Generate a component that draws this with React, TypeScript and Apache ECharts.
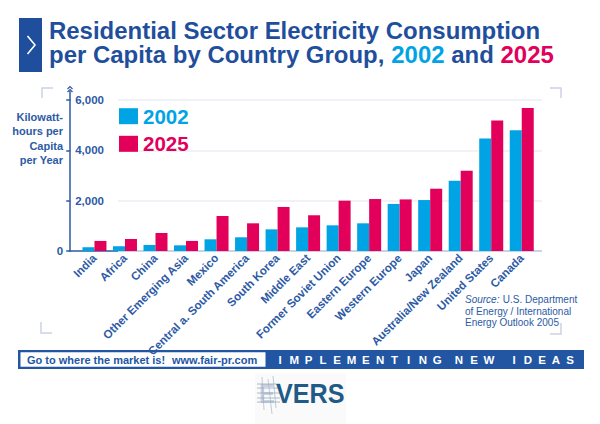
import React, { useEffect, useRef } from "react";
import * as echarts from "echarts";

// Country groups, left to right
const categories = [
  "India",
  "Africa",
  "China",
  "Other Emerging Asia",
  "Mexico",
  "Central a. South America",
  "South Korea",
  "Middle East",
  "Former Soviet Union",
  "Eastern Europe",
  "Western Europe",
  "Japan",
  "Australia/New Zealand",
  "United States",
  "Canada",
];

// Kilowatt-hours per capita per year
const values2002 = [150, 190, 240, 225, 465, 545, 860, 940, 1020, 1100, 1870, 2025, 2795, 4475, 4795];
const values2025 = [400, 475, 715, 400, 1390, 1100, 1750, 1420, 2000, 2065, 2050, 2475, 3190, 5190, 5680];

const seriesNames = ["2002", "2025"];
const yMin = 0;
const yMax = 6000;
const yInterval = 2000;

const footerLeft = ["Go to where the market is!", "www.fair-pr.com"];
const footerWords = ["IMPLEMENTING", "NEW", "IDEAS"];

const NAVY = "#1f4f9c";
const AXIS = "#2d5aa5";
const CYAN = "#00a4e4";
const MAGENTA = "#e2005b";
const BRACKET = "#cdd1e3";
const FONT = '"Liberation Sans", Arial, sans-serif';

function buildFooterLetters() {
  const els: any[] = [];
  const starts = [280, 459, 514];
  const steps = [14.3, 15, 14];
  footerWords.forEach((w, wi) => {
    w.split("").forEach((ch, i) => {
      els.push({
        type: "text",
        x: starts[wi] + i * steps[wi],
        y: 359.5,
        style: {
          text: ch,
          font: `bold 11.5px ${FONT}`,
          fill: "#ffffff",
          align: "center",
          verticalAlign: "middle",
        },
        silent: true,
      });
    });
  });
  return els;
}

export default function App() {
  const ref = useRef<HTMLDivElement>(null);

  useEffect(() => {
    if (!ref.current) return;
    const chart = echarts.init(ref.current, null, { renderer: "svg" });

    const bracket = (points: number[][]) => ({
      type: "polyline",
      shape: { points },
      style: { stroke: BRACKET, lineWidth: 1.5, fill: "none" },
      silent: true,
    });

    const option: any = {
      animation: false,
      backgroundColor: "#ffffff",
      textStyle: { fontFamily: FONT },
      legend: {
        orient: "vertical",
        left: 119,
        top: 105.7,
        padding: 0,
        itemWidth: 19,
        itemHeight: 16,
        itemGap: 6.6,
        icon: "rect",
        selectedMode: false,
        textStyle: { fontFamily: FONT, fontWeight: "bold", fontSize: 20.5, lineHeight: 16 },
        data: [
          { name: seriesNames[0], textStyle: { color: CYAN } },
          { name: seriesNames[1], textStyle: { color: MAGENTA } },
        ],
      },
      grid: [
        { left: 79.2, right: 63, top: 100, bottom: 173 },
        { left: 118, right: 58, top: 100, bottom: 173 },
      ],
      xAxis: [
        {
          type: "category",
          gridIndex: 0,
          data: categories,
          boundaryGap: true,
          axisLine: { show: false },
          axisTick: { show: false },
          axisLabel: {
            interval: 0,
            rotate: 45,
            margin: 5,
            color: AXIS,
            fontWeight: "bold",
            fontSize: 11.6,
            fontFamily: FONT,
          },
        },
        { type: "value", gridIndex: 1, min: 0, max: 1, show: false },
      ],
      yAxis: [
        {
          type: "value",
          gridIndex: 0,
          position: "left",
          offset: 9,
          min: yMin,
          max: yMax,
          interval: yInterval,
          axisLine: { show: true, lineStyle: { color: AXIS, width: 1.5 } },
          axisTick: { show: true, length: 4, lineStyle: { color: AXIS, width: 1.5 } },
          axisLabel: {
            inside: true,
            margin: 5,
            color: AXIS,
            fontWeight: "bold",
            fontSize: 11.5,
            fontFamily: FONT,
            formatter: (v: number) => (v === 0 ? "" : v.toLocaleString("en-US")),
          },
          splitLine: { show: false },
        },
        {
          type: "value",
          gridIndex: 0,
          position: "left",
          offset: 9,
          min: yMin,
          max: yMax,
          interval: yInterval,
          axisLine: { show: false },
          axisTick: { show: false },
          axisLabel: {
            margin: 7,
            color: AXIS,
            fontWeight: "bold",
            fontSize: 11.5,
            fontFamily: FONT,
            formatter: (v: number) => (v === 0 ? "0" : ""),
          },
          splitLine: { show: false },
        },
        {
          type: "value",
          gridIndex: 1,
          min: yMin,
          max: yMax,
          interval: yInterval,
          axisLine: { show: false },
          axisTick: { show: false },
          axisLabel: { show: false },
          splitLine: { show: true, lineStyle: { color: "#ececf4", width: 1.5 } },
        },
      ],
      series: [
        {
          name: seriesNames[0],
          type: "bar",
          xAxisIndex: 0,
          yAxisIndex: 0,
          data: values2002,
          barWidth: 12,
          barGap: "0%",
          itemStyle: { color: CYAN },
          silent: true,
        },
        {
          name: seriesNames[1],
          type: "bar",
          xAxisIndex: 0,
          yAxisIndex: 0,
          data: values2025,
          barWidth: 12,
          barGap: "0%",
          itemStyle: { color: MAGENTA },
          silent: true,
        },
      ],
      graphic: [
        // title block
        { type: "rect", shape: { x: 19, y: 18, width: 23, height: 54 }, style: { fill: NAVY }, silent: true },
        {
          type: "polyline",
          shape: { points: [[27.5, 36], [35, 45], [27.5, 54]] },
          style: { stroke: "#ffffff", lineWidth: 1.6, fill: "none" },
          silent: true,
        },
        {
          type: "text",
          x: 49,
          y: 31.5,
          scaleX: 1.02,
          style: {
            text: "Residential Sector Electricity Consumption",
            font: `bold 23.5px ${FONT}`,
            fill: NAVY,
            verticalAlign: "middle",
          },
          silent: true,
        },
        {
          type: "text",
          x: 49,
          y: 55.5,
          scaleX: 1.02,
          style: {
            text: "{b|per Capita by Country Group, }{c|2002}{b| and }{d|2025}",
            verticalAlign: "middle",
            rich: {
              b: { font: `bold 23.5px ${FONT}`, fill: NAVY },
              c: { font: `bold 23.5px ${FONT}`, fill: CYAN },
              d: { font: `bold 23.5px ${FONT}`, fill: MAGENTA },
            },
          },
          silent: true,
        },
        // axis title
        {
          type: "text",
          x: 63,
          y: 110,
          style: {
            text: "Kilowatt-\nhours per\nCapita\nper Year",
            font: `bold 11px ${FONT}`,
            fill: AXIS,
            align: "right",
            verticalAlign: "top",
            lineHeight: 14.3,
          },
          silent: true,
        },
        // y axis extension and arrow head
        {
          type: "line",
          shape: { x1: 70, y1: 91, x2: 70, y2: 100 },
          style: { stroke: AXIS, lineWidth: 1.5 },
          silent: true,
        },
        {
          type: "polyline",
          shape: { points: [[67.5, 89], [70, 86.5], [72.5, 89]] },
          style: { stroke: AXIS, lineWidth: 1.2, fill: "none" },
          silent: true,
        },
        {
          type: "polyline",
          shape: { points: [[67.5, 92], [70, 89.5], [72.5, 92]] },
          style: { stroke: AXIS, lineWidth: 1.2, fill: "none" },
          silent: true,
        },
        // baseline
        {
          type: "line",
          shape: { x1: 69.3, y1: 251, x2: 542, y2: 251 },
          style: { stroke: AXIS, lineWidth: 1.5 },
          silent: true,
        },
        // corner brackets
        bracket([[42, 98], [42, 88], [53, 88]]),
        bracket([[550, 88], [561, 88], [561, 98]]),
        bracket([[41, 322], [41, 333], [52, 333]]),
        bracket([[550, 334], [561, 334], [561, 323]]),
        // source note
        {
          type: "text",
          x: 465,
          y: 311,
          style: {
            text: "{i|Source:} {r|U.S. Department}\n{r|of Energy / International}\n{r|Energy Outlook 2005}",
            verticalAlign: "middle",
            rich: {
              i: { font: `italic 10px ${FONT}`, fill: AXIS, lineHeight: 11.8 },
              r: { font: `10px ${FONT}`, fill: AXIS, lineHeight: 11.8 },
            },
          },
          silent: true,
        },
        // footer band
        { type: "rect", shape: { x: 18, y: 350, width: 566, height: 19 }, style: { fill: "#2256a3" }, silent: true },
        { type: "rect", shape: { x: 20.5, y: 352.3, width: 245, height: 14.4 }, style: { fill: "#ffffff" }, silent: true },
        {
          type: "text",
          x: 27,
          y: 359.5,
          style: { text: footerLeft[0], font: `bold 11px ${FONT}`, fill: "#2256a3", verticalAlign: "middle" },
          silent: true,
        },
        {
          type: "text",
          x: 172,
          y: 359.5,
          style: { text: footerLeft[1], font: `bold 11px ${FONT}`, fill: "#2256a3", verticalAlign: "middle" },
          silent: true,
        },
        ...buildFooterLetters(),
        // EVERS logo
        { type: "rect", shape: { x: 255, y: 373, width: 91, height: 51 }, style: { fill: "#fafafb" }, silent: true },
        {
          type: "text",
          x: 259,
          y: 393.5,
          scaleX: 0.85,
          style: {
            text: "E",
            font: `bold 28px ${FONT}`,
            fill: "#8a9fba",
            opacity: 0.45,
            verticalAlign: "middle",
          },
          silent: true,
        },
        ...[384, 388, 393, 398, 402].map((y) => ({
          type: "line",
          shape: { x1: 257, y1: y, x2: 280, y2: y },
          style: { stroke: "#8ea3bd", lineWidth: 1, opacity: 0.75 },
          silent: true,
        })),
        ...[[262, 377, 264, 410], [268, 379, 272, 414], [273, 376, 276, 408]].map((p) => ({
          type: "line",
          shape: { x1: p[0], y1: p[1], x2: p[2], y2: p[3] },
          style: { stroke: "#9fb1c6", lineWidth: 0.8, opacity: 0.8 },
          silent: true,
        })),
        {
          type: "text",
          x: 276,
          y: 393.5,
          scaleX: 0.9,
          style: {
            text: "VERS",
            font: `bold 28px ${FONT}`,
            fill: "#215a86",
            verticalAlign: "middle",
          },
          silent: true,
        },
      ],
    };

    chart.setOption(option);
    return () => chart.dispose();
  }, []);

  return (
    <div
      ref={ref}
      style={{ position: "fixed", left: 0, top: 0, width: 600, height: 424, background: "#fff" }}
    />
  );
}
